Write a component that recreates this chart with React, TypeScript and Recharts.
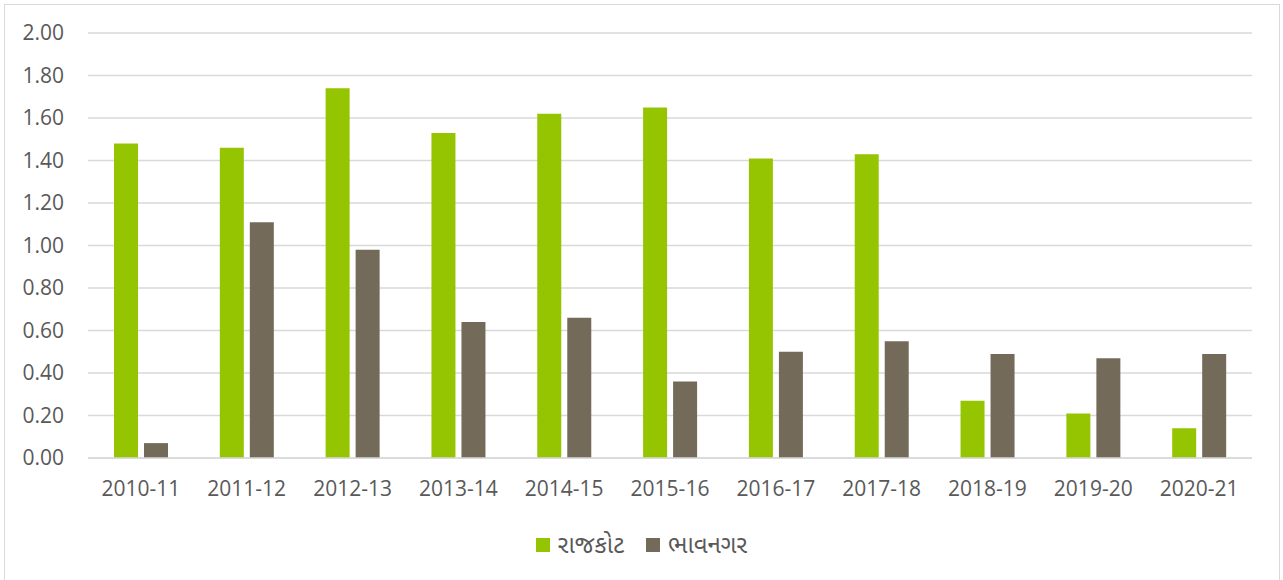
import React from "react";
import { BarChart, Bar, XAxis, YAxis, CartesianGrid } from "recharts";

const categories = ["2010-11", "2011-12", "2012-13", "2013-14", "2014-15", "2015-16", "2016-17", "2017-18", "2018-19", "2019-20", "2020-21"];
const rajkot = [1.48, 1.46, 1.74, 1.53, 1.62, 1.65, 1.41, 1.43, 0.27, 0.21, 0.14];
const bhavnagar = [0.07, 1.11, 0.98, 0.64, 0.66, 0.36, 0.5, 0.55, 0.49, 0.47, 0.49];
const yTicks = [0, 0.2, 0.4, 0.6, 0.8, 1.0, 1.2, 1.4, 1.6, 1.8, 2.0];
const seriesNames = ["રાજકોટ", "ભાવનગર"];
const seriesColors = ["#95C500", "#736A5A"];

const data = categories.map((c, i) => ({ name: c, rajkot: rajkot[i], bhavnagar: bhavnagar[i] }));

const FONT = '"Open Sans", "Noto Sans Gujarati", "Noto Sans", sans-serif';
const TEXT = "#595959";

export default function App() {
  return (
    <div style={{ position: "absolute", left: 0, top: 0, width: 1283, height: 580, overflow: "hidden", background: "#fff", fontFamily: FONT }}>
      <div style={{ position: "absolute", left: 4, top: 4, width: 1276, height: 620, border: "1px solid #D9D9D9", boxSizing: "border-box" }} />
      <div style={{ position: "absolute", left: 0, top: 0 }}>
        <BarChart width={1283} height={580} data={data} margin={{ top: 33, right: 31, left: 0, bottom: 92 }} barSize={24} barGap={6}>
          <CartesianGrid vertical={false} stroke="#D9D9D9" strokeWidth={1.3} />
          <XAxis
            dataKey="name"
            height={30}
            tickLine={false}
            axisLine={{ stroke: "#D9D9D9", strokeWidth: 1.3 }}
            tickSize={0}
            tickMargin={23}
            interval={0}
            tick={{ fill: TEXT, fontSize: 21, fontFamily: FONT }}
          />
          <YAxis
            width={88}
            domain={[0, 2]}
            ticks={yTicks}
            tickFormatter={(v: number) => v.toFixed(2)}
            axisLine={false}
            tickLine={false}
            tickSize={0}
            tickMargin={24}
            tick={{ fill: TEXT, fontSize: 21, fontFamily: FONT }}
          />
          <Bar dataKey="rajkot" name={seriesNames[0]} fill={seriesColors[0]} isAnimationActive={false} />
          <Bar dataKey="bhavnagar" name={seriesNames[1]} fill={seriesColors[1]} isAnimationActive={false} />
        </BarChart>
      </div>
      <div style={{ position: "absolute", left: 0, top: 527, width: 1283, display: "flex", justifyContent: "center", alignItems: "center", gap: 22, color: TEXT, fontSize: 24, fontFamily: FONT }}>
        {seriesNames.map((n, i) => (
          <div key={n} style={{ display: "flex", alignItems: "center" }}>
            <span style={{ display: "inline-block", width: 14, height: 14, background: seriesColors[i], marginRight: 8 }} />
            <span>{n}</span>
          </div>
        ))}
      </div>
    </div>
  );
}
